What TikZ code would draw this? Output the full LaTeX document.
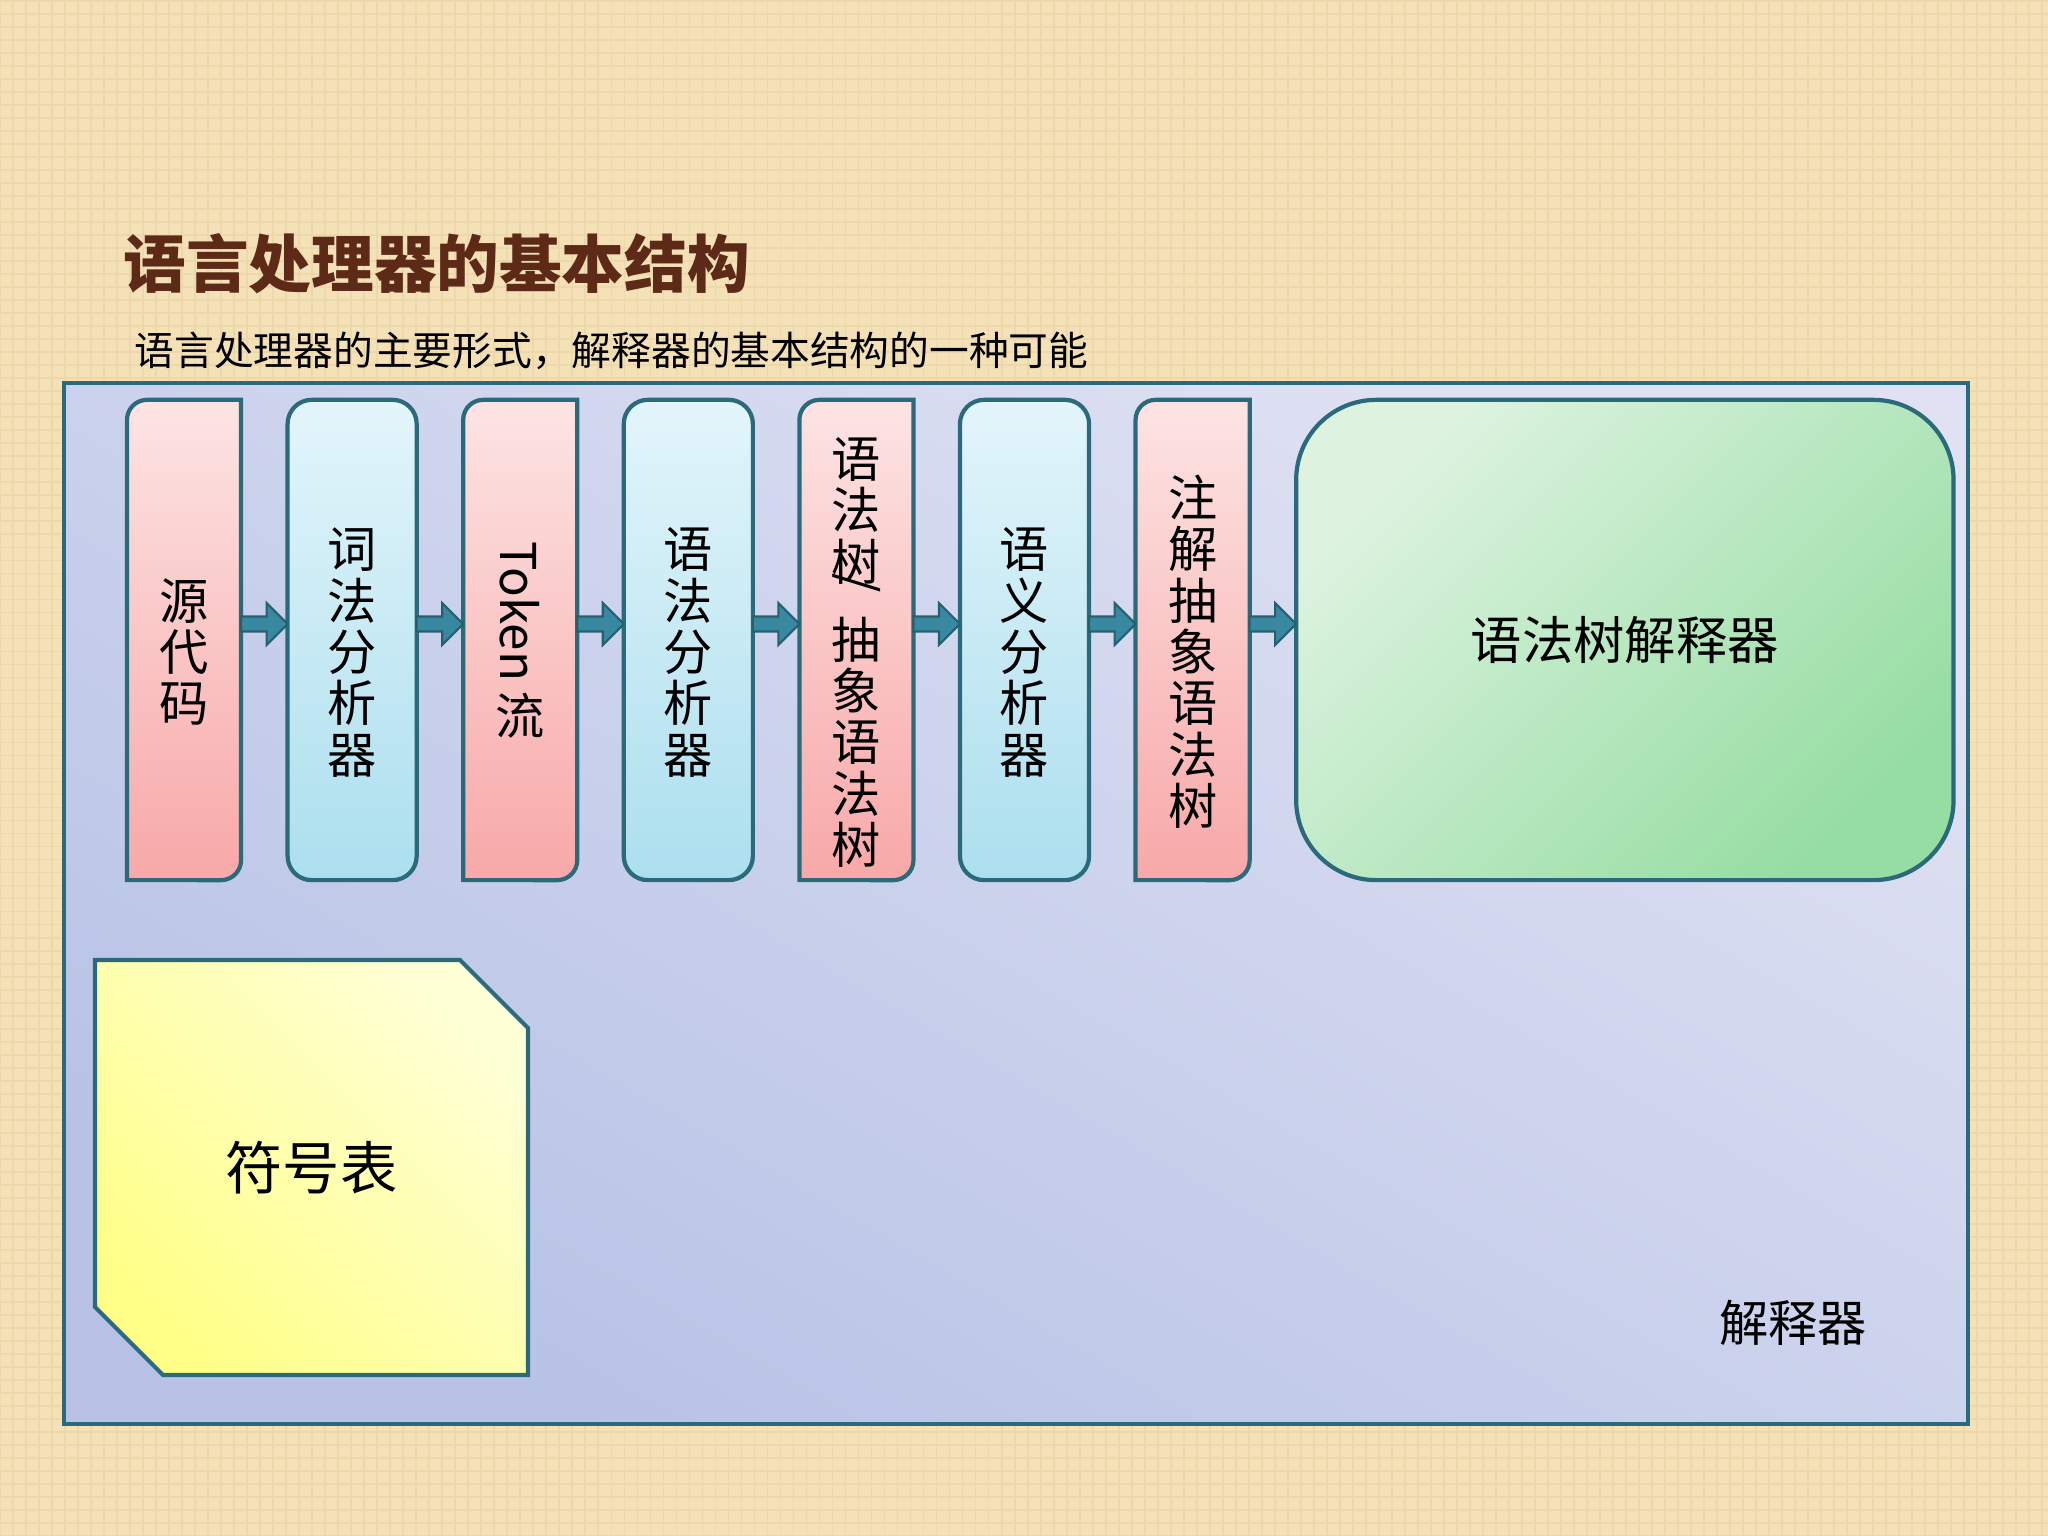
\documentclass[tikz,border=0pt]{standalone}
\usepackage{fontspec}
\setmainfont{Noto Sans CJK SC}
\usepackage{graphicx}
\usetikzlibrary{positioning,calc,backgrounds}

\definecolor{bgpaper}{HTML}{F4E1B8}
\definecolor{bgline}{HTML}{EDD8AC}
\definecolor{frametop}{HTML}{E0E2F3}
\definecolor{framebot}{HTML}{B7C2E6}
\definecolor{edge}{HTML}{2B6A7A}
\definecolor{pinktop}{HTML}{FDE4E4}
\definecolor{pinkbot}{HTML}{F8A8A8}
\definecolor{bluetop}{HTML}{E3F5FB}
\definecolor{bluebot}{HTML}{ACDFEE}
\definecolor{greenleft}{HTML}{DDF3E0}
\definecolor{greenright}{HTML}{96DDA3}
\definecolor{yelhi}{HTML}{FFFFD6}
\definecolor{yello}{HTML}{FFFF88}
\definecolor{arrowfill}{HTML}{3889A0}
\definecolor{arrowedge}{HTML}{25606F}
\definecolor{titlebrown}{HTML}{5C2A16}

\newcommand\boxfont{\fontsize{14}{14.6}\selectfont}
\newcommand\lift{\rule{0pt}{18.5pt}}
\newcommand\vslash{\rlap{\makebox[1em]{\smash{\raisebox{2pt}{\rotatebox{-90}{/}}}}}}

\tikzset{
  slab/.style={rectangle, inner sep=0pt, outer sep=0pt, minimum height=4.8cm,
    align=center, font=\boxfont},
  pinkslab/.style={slab, minimum width=1.14cm},
  blueslab/.style={slab, minimum width=1.29cm, draw=edge, line width=1.2pt,
    rounded corners=0.24cm, top color=bluetop, bottom color=bluebot},
  greenslab/.style={slab, minimum width=6.57cm, draw=edge, line width=1.2pt,
    rounded corners=0.8cm, left color=greenleft, right color=greenright, shading angle=45},
  pinkedge/.style={draw=edge, line width=1.2pt, top color=pinktop, bottom color=pinkbot},
  symtab/.style={draw=edge, line width=1.2pt, left color=yello, right color=yelhi, shading angle=135},
  frame/.style={draw=edge, line width=1.1pt, top color=frametop, bottom color=framebot, shading angle=-30},
  flow/.style={fill=arrowfill, draw=arrowedge, line width=0.6pt, line join=miter}
}

\begin{document}
\begin{tikzpicture}[x=0.01cm, y=0.01cm]
    \useasboundingbox (0,0) rectangle (2048,1536);

    % Paper and interpreter frame
    \begin{scope}[on background layer]
        \fill[bgpaper] (0,0) rectangle (2048,1536);
        \draw[bgline, line width=0.5pt, step=0.13cm] (0,0) grid (2048,1536);
        \draw[frame] (64,112) rectangle (1968,1153);
    \end{scope}

    % Headings
    \node[anchor=west, inner sep=0pt, text=titlebrown,
        font=\fontsize{17.8}{19}\selectfont\bfseries] (title) at (123,1272) {语言处理器的基本结构};
    \node[anchor=west, inner sep=0pt, font=\fontsize{11.3}{13}\selectfont]
        (subtitle) at (134,1185) {语言处理器的主要形式，解释器的基本结构的一种可能};

    % Pipeline stages
    \node[pinkslab, anchor=west] (src) at (127,896) {\lift 源\\代\\码};
    \node[blueslab, right=0.465cm of src] (lex) {\lift 词\\法\\分\\析\\器};
    \node[pinkslab, right=0.465cm of lex] (tok) {\rotatebox{-90}{Token\,}\\流};
    \node[blueslab, right=0.465cm of tok] (par) {\lift 语\\法\\分\\析\\器};
    \node[pinkslab, right=0.465cm of par] (ast) {\lift 语\\法\\\vslash 树\\[7.6pt]抽\\象\\语\\法\\树};
    \node[blueslab, right=0.465cm of ast] (sem) {\lift 语\\义\\分\\析\\器};
    \node[pinkslab, right=0.465cm of sem] (aast) {\lift 注\\解\\抽\\象\\语\\法\\树};
    \node[greenslab, right=0.465cm of aast, font=\fontsize{14.6}{16}\selectfont] (interp) {语法树解释器};

    % Data boxes: one rounded and one square corner pair
    \begin{scope}[on background layer]
        \foreach \n in {src,tok,ast,aast} {
            \draw[pinkedge] (\n.south west) -- ($(\n.north west)+(0,-20)$)
                arc[start angle=180, end angle=90, radius=0.2cm] -- (\n.north east)
                -- ($(\n.south east)+(0,20)$)
                arc[start angle=0, end angle=-90, radius=0.2cm] -- cycle;
        }
    \end{scope}

    % Block arrows between the stages
    \foreach \a/\b in {src/lex,lex/tok,tok/par,par/ast,ast/sem,sem/aast,aast/interp} {
        \draw[flow] ($(\a.east)+(0,23.5)$) -- ($(\b.west)+(-21,23.5)$)
            -- ($(\b.west)+(-21,37)$) -- ($(\b.west)+(0,16)$)
            -- ($(\b.west)+(-21,-5)$) -- ($(\b.west)+(-21,8.5)$)
            -- ($(\a.east)+(0,8.5)$) -- cycle;
    }

    % Symbol table
    \draw[symtab] (95,576) -- (460,576) -- (528,508) -- (528,161)
        -- (163,161) -- (95,229) -- cycle;
    \node[font=\fontsize{16.3}{18}\selectfont] (symtab) at (311.5,368.5) {符号表};

    % Frame label
    \node[font=\boxfont] (framelabel) at (1793,213) {解释器};
\end{tikzpicture}
\end{document}
